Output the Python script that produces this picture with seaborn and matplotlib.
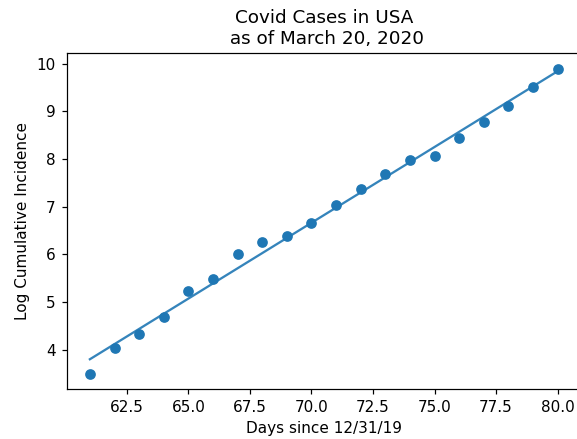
import matplotlib
matplotlib.use("Agg")
import matplotlib.pyplot as plt
import pandas as pd
import seaborn as sns

# Days since 12/31/19 and natural log of cumulative US case counts
days = [61, 62, 63, 64, 65, 66, 67, 68, 69, 70,
        71, 72, 73, 74, 75, 76, 77, 78, 79, 80]
log_cases = [3.49, 4.03, 4.32, 4.68, 5.23, 5.48, 6.01, 6.27, 6.39, 6.65,
             7.04, 7.37, 7.69, 7.98, 8.07, 8.44, 8.77, 9.12, 9.52, 9.90]

df = pd.DataFrame({"day": days, "log_inc": log_cases})

plt.rcParams["font.family"] = ["DejaVu Sans"]

dpi = 110
fig = plt.figure(figsize=(577 / dpi, 439 / dpi), dpi=dpi)
W, H = 577, 439
left, right, top, bottom = 66.5, 581.0, 53.3, 389.3
ax = fig.add_axes([left / W, (H - bottom) / H, (right - left) / W, (bottom - top) / H])

sns.regplot(data=df, x="day", y="log_inc", ci=None, ax=ax,
            color="#1f77b4",
            scatter_kws={"alpha": 1.0},
            line_kws={"linewidth": 1.5, "alpha": 0.9})

ax.set_title("Covid Cases in USA\n as of March 20, 2020")
ax.set_xlabel("Days since 12/31/19")
ax.set_ylabel("Log Cumulative Incidence")

fig.savefig("out.png", dpi=dpi)
